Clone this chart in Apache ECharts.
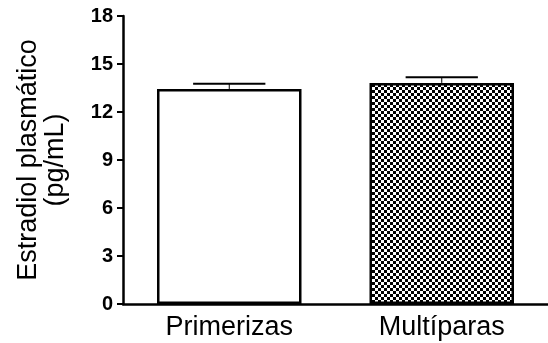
<!DOCTYPE html>
<html>
<head>
<meta charset="utf-8">
<script src="https://cdn.jsdelivr.net/npm/echarts@6/dist/echarts.min.js"></script>
<style>
  html, body { margin: 0; padding: 0; background: #fff; }
  #chart { width: 548px; height: 343px; }
</style>
</head>
<body>
<div id="chart"></div>
<script>
// Plasma estradiol by group (mean ± SEM)
const categories = ['Primerizas', 'Multíparas'];
const means = [13.44, 13.82];
const sems = [0.32, 0.35];
const yTicks = [0, 3, 6, 9, 12, 15, 18];

// Checkerboard fill for the second bar
function checker(cell) {
  const c = document.createElement('canvas');
  c.width = cell * 2; c.height = cell * 2;
  const ctx = c.getContext('2d');
  ctx.fillStyle = '#fff';
  ctx.fillRect(0, 0, c.width, c.height);
  ctx.fillStyle = '#000';
  ctx.fillRect(0, 0, cell, cell);
  ctx.fillRect(cell, cell, cell, cell);
  return c;
}
const pattern = { image: checker(3), repeat: 'repeat' };
const fills = ['#ffffff', pattern];

const chart = echarts.init(document.getElementById('chart'), null, { renderer: 'canvas' });
const font = 'Arial, "Liberation Sans", Helvetica, sans-serif';

chart.setOption({
  animation: false,
  backgroundColor: '#fff',
  grid: { left: 123, right: 0, top: 16, bottom: 39, containLabel: false },
  xAxis: {
    type: 'category',
    data: categories,
    axisLine: { lineStyle: { color: '#000', width: 2.5 } },
    axisTick: { show: false },
    axisLabel: { color: '#000', fontSize: 27, fontFamily: font, margin: 10 }
  },
  yAxis: {
    type: 'value',
    min: yTicks[0],
    max: yTicks[yTicks.length - 1],
    interval: yTicks[1] - yTicks[0],
    splitLine: { show: false },
    axisLine: { show: true, lineStyle: { color: '#000', width: 2.5 } },
    axisTick: { show: true, inside: false, length: 6, lineStyle: { color: '#000', width: 2 } },
    axisLabel: { color: '#000', fontSize: 20, fontWeight: 'bold', fontFamily: font, margin: 10 },
    name: 'Estradiol plasmático\n(pg/mL)',
    nameLocation: 'middle',
    nameRotate: 90,
    nameGap: 54,
    nameTextStyle: { color: '#000', fontSize: 27, fontFamily: font, lineHeight: 27 }
  },
  series: [
    {
      type: 'bar',
      barWidth: '68%',
      data: means.map((v, i) => ({
        value: v,
        itemStyle: { color: fills[i], borderColor: '#000', borderWidth: 2.5 }
      })),
      z: 2
    },
    {
      type: 'custom',
      z: 3,
      data: means.map((v, i) => [i, v, sems[i]]),
      renderItem: function (params, api) {
        const i = api.value(0);
        const top = api.coord([i, api.value(1)]);
        const hi = api.coord([i, api.value(1) + api.value(2)]);
        const bw = api.size([1, 0])[0] * 0.68;
        const half = bw / 4;
        return {
          type: 'group',
          children: [
            { type: 'line', shape: { x1: top[0], y1: top[1], x2: hi[0], y2: hi[1] },
              style: { stroke: '#000', lineWidth: 1 } },
            { type: 'line', shape: { x1: hi[0] - half, y1: hi[1], x2: hi[0] + half, y2: hi[1] },
              style: { stroke: '#000', lineWidth: 2 } }
          ]
        };
      }
    }
  ]
});
</script>
</body>
</html>
